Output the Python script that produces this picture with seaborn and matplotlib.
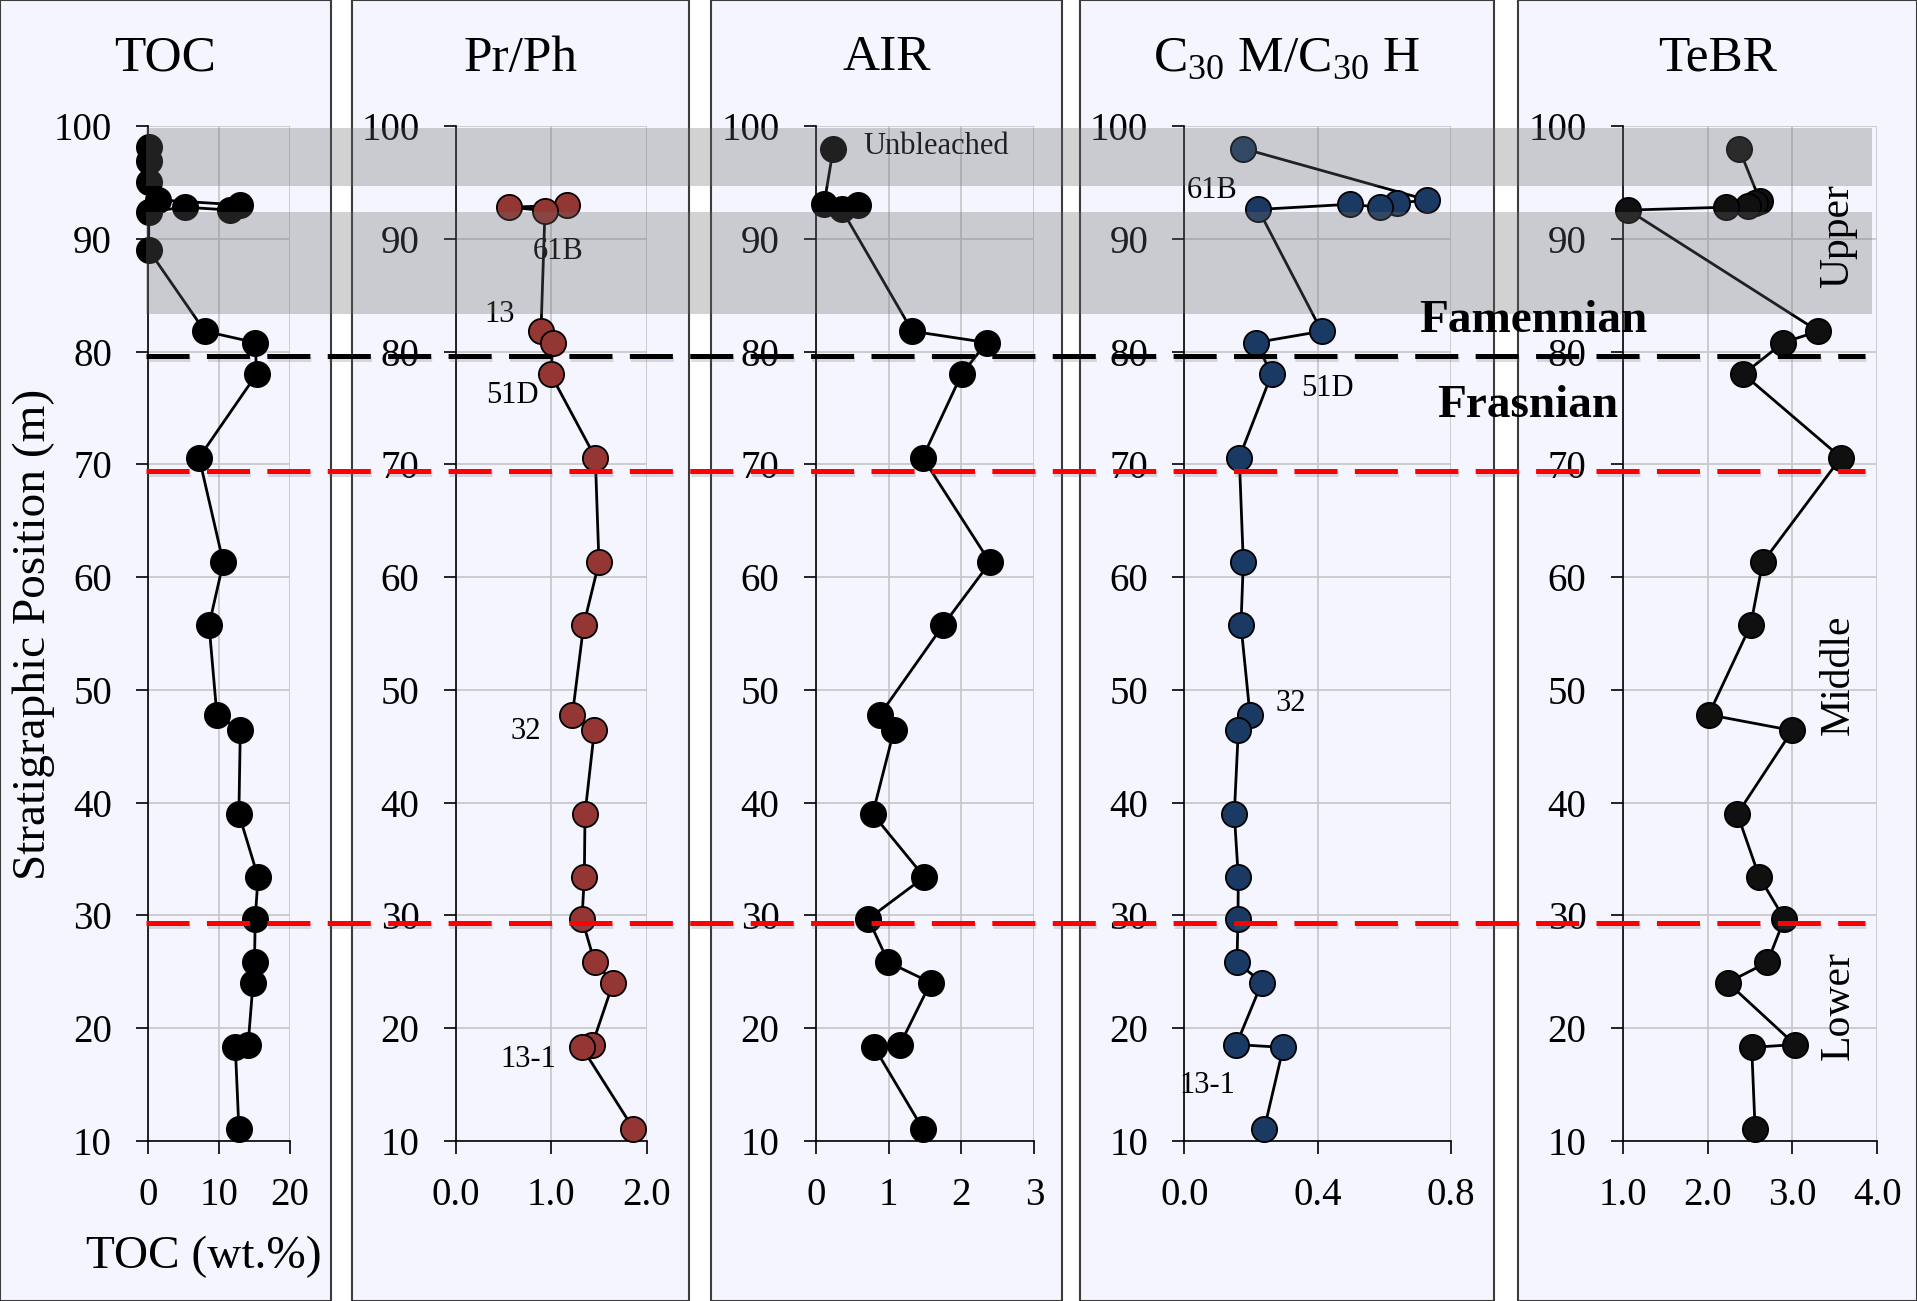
import matplotlib
matplotlib.use("Agg")
import matplotlib.pyplot as plt
import matplotlib.patheffects as pe
from matplotlib.patches import Rectangle
import seaborn as sns
import pandas as pd

# ---------------- data ----------------
depth_main = [81.8, 80.8, 78.0, 70.6, 61.3, 55.75, 47.8, 46.4, 39.0, 33.4,
              29.7, 25.85, 24.05, 18.55, 18.3, 11.1]

toc_depth_top = [98.1, 96.9, 95.05, 93.45, 93.0, 92.55, 92.8, 92.4, 89.0]
toc_top = [0.1, 0.1, 0.1, 1.45, 12.96, 11.5, 5.2, 0.1, 0.1]
toc_main = [8.0, 15.1, 15.3, 7.2, 10.6, 8.6, 9.7, 13.0, 12.8, 15.5, 15.1,
            15.0, 14.8, 14.1, 12.3, 12.8]

prph_depth_top = [92.97, 92.8, 92.5]
prph_top = [1.17, 0.56, 0.935]
prph_main = [0.893, 1.022, 0.994, 1.462, 1.50, 1.34, 1.222, 1.452, 1.354,
             1.347, 1.322, 1.455, 1.65, 1.43, 1.322, 1.86]

air_depth_top = [98.0, 93.05, 92.97, 92.6]
air_top = [0.242, 0.114, 0.585, 0.357]
air_main = [1.326, 2.346, 2.003, 1.468, 2.392, 1.751, 0.882, 1.074, 0.782,
            1.491, 0.722, 0.997, 1.578, 1.157, 0.805, 1.468]

c30_depth_top = [98.0, 93.44, 93.15, 92.8, 93.06, 92.6]
c30_top = [0.177, 0.729, 0.637, 0.587, 0.497, 0.222]
c30_main = [0.412, 0.215, 0.262, 0.165, 0.177, 0.170, 0.197, 0.162, 0.150,
            0.162, 0.161, 0.158, 0.233, 0.156, 0.297, 0.240]

tebr_depth_top = [98.0, 93.35, 93.2, 92.9, 92.8, 92.54]
tebr_top = [2.37, 2.62, 2.56, 2.48, 2.213, 1.066]
tebr_main = [3.305, 2.893, 2.422, 3.572, 2.649, 2.508, 2.013, 2.998, 2.351,
             2.61, 2.905, 2.705, 2.237, 3.03, 2.52, 2.56]

titles = ["TOC", "Pr/Ph", "AIR", r"C$_{\mathregular{30}}$ M/C$_{\mathregular{30}}$ H", "TeBR"]
xticks_list = [[0, 10, 20], [0.0, 1.0, 2.0], [0, 1, 2, 3], [0.0, 0.4, 0.8],
               [1.0, 2.0, 3.0, 4.0]]
xticklabels_list = [["0", "10", "20"], ["0.0", "1.0", "2.0"],
                    ["0", "1", "2", "3"], ["0.0", "0.4", "0.8"],
                    ["1.0", "2.0", "3.0", "4.0"]]
yticks = [10, 20, 30, 40, 50, 60, 70, 80, 90, 100]

band_bottoms = [94.7, 83.3]
band_tops = [99.8, 92.35]
stage_boundary = 79.6
zone_boundaries = [69.4, 29.3]

prph_notes = ["61B", "13", "51D", "32", "13-1"]
prph_note_x = [1.071, 0.464, 0.59, 0.733, 0.764]
prph_note_y = [88.2, 82.6, 75.45, 45.65, 16.6]
c30_notes = ["61B", "51D", "32", "13-1"]
c30_note_x = [0.083, 0.428, 0.320, 0.068]
c30_note_y = [93.6, 76.05, 48.1, 14.3]
zone_names = ["Upper", "Middle", "Lower"]
zone_label_y = [90.2, 51.3, 22.0]

# ---------------- style ----------------
sns.set_style("white")
plt.rcParams["font.family"] = ["Liberation Serif", "DejaVu Serif"]
plt.rcParams["mathtext.fontset"] = "custom"
plt.rcParams["mathtext.rm"] = "Liberation Serif"
plt.rcParams["lines.scale_dashes"] = False
for key in ["text.color", "axes.labelcolor", "xtick.color", "ytick.color"]:
    plt.rcParams[key] = "black"

W, H = 1917, 1301
fig = plt.figure(figsize=(W / 100, H / 100), dpi=100)
fig.patch.set_facecolor("white")


def fx(px):
    return px / W


def fy(py):
    return 1 - py / H


AX_TOP, AX_BOT = 126, 1141
panel_edges = [(0, 331), (352, 689), (711, 1062), (1080, 1494), (1518, 1917)]
axes_lr = [(148, 290), (455.7, 646.7), (815.7, 1034.3), (1184.3, 1451),
           (1622.7, 1877.3)]

for l, r in panel_edges:
    fig.patches.append(Rectangle((fx(l), 0), fx(r - l), 1,
                                 transform=fig.transFigure,
                                 facecolor="#F4F5FE", edgecolor="#3C3C3C",
                                 lw=1.5, zorder=-5))

series = [
    (toc_depth_top + depth_main, toc_top + toc_main, "black", "black"),
    (prph_depth_top + depth_main, prph_top + prph_main, "#943634", "black"),
    (air_depth_top + depth_main, air_top + air_main, "black", "black"),
    (c30_depth_top + depth_main, c30_top + c30_main, "#1B3A63", "black"),
    (tebr_depth_top + depth_main, tebr_top + tebr_main, "#101010", "black"),
]

axes = []
for i, ((l, r), (dep, val, fc, ec)) in enumerate(zip(axes_lr, series)):
    ax = fig.add_axes([fx(l), fy(AX_BOT), fx(r - l), (AX_BOT - AX_TOP) / H])
    ax.set_facecolor("none")
    df = pd.DataFrame({"value": val, "depth": dep})
    sns.lineplot(data=df, x="value", y="depth", sort=False, estimator=None,
                 color="black", lw=2.0, ax=ax, zorder=3)
    sns.scatterplot(data=df, x="value", y="depth", s=330, color=fc,
                    edgecolor=ec, linewidth=1.3, ax=ax, zorder=4,
                    legend=False, clip_on=False)
    ax.set_xlim(xticks_list[i][0], xticks_list[i][-1])
    ax.set_ylim(10, 100)
    ax.set_xticks(xticks_list[i])
    ax.set_xticklabels(xticklabels_list[i])
    ax.set_yticks(yticks)
    ax.set_yticklabels([str(t) for t in yticks])
    ax.grid(True, color="#C6C6C6", lw=1.2)
    ax.set_axisbelow(True)
    for s in ["top", "right"]:
        ax.spines[s].set_visible(False)
    for s in ["left", "bottom"]:
        ax.spines[s].set_color("black")
        ax.spines[s].set_linewidth(1.2)
    ax.tick_params(direction="out", length=9, width=1.2, pad=17,
                   labelsize=28, colors="black", left=True, bottom=True)
    ax.set_xlabel("")
    ax.set_ylabel("")
    fig.text(fx((panel_edges[i][0] + panel_edges[i][1]) / 2), fy(70.5),
             titles[i], ha="center", va="baseline", fontsize=37,
             color="black")
    axes.append(ax)

# annotations
for t, x, y in zip(prph_notes, prph_note_x, prph_note_y):
    axes[1].text(x, y, t, ha="center", va="baseline", fontsize=22, zorder=6,
                 color="black")
for t, x, y in zip(c30_notes, c30_note_x, c30_note_y):
    axes[3].text(x, y, t, ha="center", va="baseline", fontsize=22, zorder=6,
                 color="black")
axes[2].text(0.649, 97.5, "Unbleached", ha="left", va="baseline",
             fontsize=22, zorder=6, color="black")

# overlay: bands and boundaries
ov = fig.add_axes([fx(146), fy(AX_BOT), fx(1872 - 146), (AX_BOT - AX_TOP) / H],
                  zorder=10)
ov.set_xlim(0, 1)
ov.set_ylim(10, 100)
ov.axis("off")
for b, t in zip(band_bottoms, band_tops):
    ov.axhspan(b, t, facecolor=(0.42, 0.42, 0.42), alpha=0.30, lw=0)
xmax_line = (1865 - 146) / (1872 - 146)
shadow = [pe.SimpleLineShadow(offset=(1.0, -2.0), shadow_color="#666677",
                              alpha=0.22), pe.Normal()]
ov.axhline(stage_boundary, xmin=0, xmax=xmax_line, color="black", lw=3.6,
           dashes=(31, 12.5), path_effects=shadow)
for yb in zone_boundaries:
    ov.axhline(yb, xmin=0, xmax=xmax_line, color="#FF0000", lw=3.6,
               dashes=(31, 12.5), path_effects=shadow)

# zone labels drawn on top (in TeBR data coordinates)
for t, y in zip(zone_names, zone_label_y):
    ov.text(3.537, y, t, rotation=90, ha="center", va="center",
            fontsize=30, zorder=20, color="black",
            transform=axes[4].transData)

fig.text(fx(1533), fy(331.7), "Famennian", ha="center", va="baseline",
         fontsize=34, fontweight="bold", zorder=12, color="black")
fig.text(fx(1527.5), fy(416.7), "Frasnian", ha="center", va="baseline",
         fontsize=34, fontweight="bold", zorder=12, color="black")

fig.text(fx(34), fy(634), "Stratigraphic Position (m)", rotation=90,
         ha="center", va="center", fontsize=34, color="black")
fig.text(fx(203.5), fy(1267.7), "TOC (wt.%)", ha="center", va="baseline",
         fontsize=34, color="black")

fig.savefig("out.png", dpi=100)
